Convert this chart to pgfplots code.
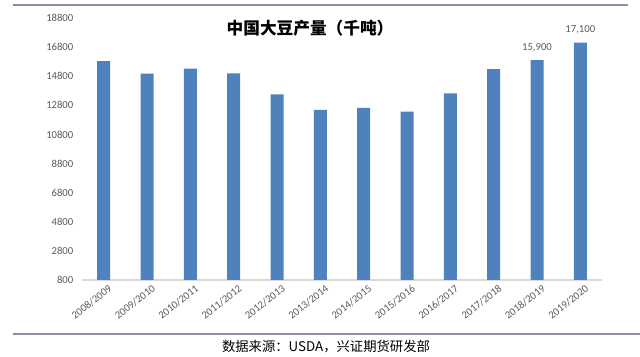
\documentclass[border=0pt]{standalone}
\usepackage{pgfplots}
\pgfplotsset{compat=1.18}
\usepackage{fontspec}
\setmainfont{Carlito}
\newfontfamily\cjk{Noto Sans CJK SC}
\definecolor{barblue}{HTML}{4F81BD}
\definecolor{ticktext}{HTML}{595959}
\definecolor{rulecol}{HTML}{8C8CAA}
\begin{document}
\begin{tikzpicture}
\path[use as bounding box] (0,0) rectangle (480pt,267.75pt);
\draw[rulecol, line width=1.4pt] (10pt,264pt) -- (471pt,264pt);
\draw[rulecol, line width=1.4pt] (10pt,17.25pt) -- (480pt,17.25pt);
\node[font=\cjk\fontsize{12.5}{14}\selectfont\bfseries] at (232.5pt,246.75pt) {中国大豆产量（千吨）};
\node[font=\cjk\fontsize{10}{12}\selectfont] at (244.5pt,7.5pt) {数据来源：USDA，兴证期货研发部};
\begin{axis}[
  at={(61.5pt,57.75pt)}, anchor=south west,
  scale only axis, width=390pt, height=196.5pt,
  xmin=-0.5, xmax=11.5, ymin=800, ymax=18800,
  ytick={800,2800,4800,6800,8800,10800,12800,14800,16800,18800},
  scaled y ticks=false,
  xtick={0,...,11},
  xticklabels={2008/2009,2009/2010,2010/2011,2011/2012,2012/2013,2013/2014,2014/2015,2015/2016,2016/2017,2017/2018,2018/2019,2019/2020},
  axis x line*=bottom, axis y line*=left,
  x axis line style={draw=black!15, line width=0.8pt},
  y axis line style={draw=none},
  major tick length=0pt,
  /pgf/number format/assume math mode=true,
  yticklabel style={/pgf/number format/fixed, /pgf/number format/1000 sep={}, xshift=-3pt},
  ticklabel style={font=\fontsize{8}{9}\selectfont, text=ticktext},
  xticklabel style={rotate=38, anchor=north east, xshift=4pt, yshift=-1pt},
  ybar, bar width=9.75pt,
  clip=false,
]
\addplot[fill=barblue, draw=none] coordinates {
(0,15830) (1,14980) (2,15330) (3,15000) (4,13550) (5,12480)
(6,12630) (7,12360) (8,13620) (9,15280) (10,15900) (11,17100)};
\node[anchor=south, font=\fontsize{8}{9}\selectfont, text=ticktext, yshift=3pt] at (axis cs:10,15900) {15,900};
\node[anchor=south, font=\fontsize{8}{9}\selectfont, text=ticktext, yshift=3pt] at (axis cs:11,17100) {17,100};
\end{axis}
\end{tikzpicture}
\end{document}
